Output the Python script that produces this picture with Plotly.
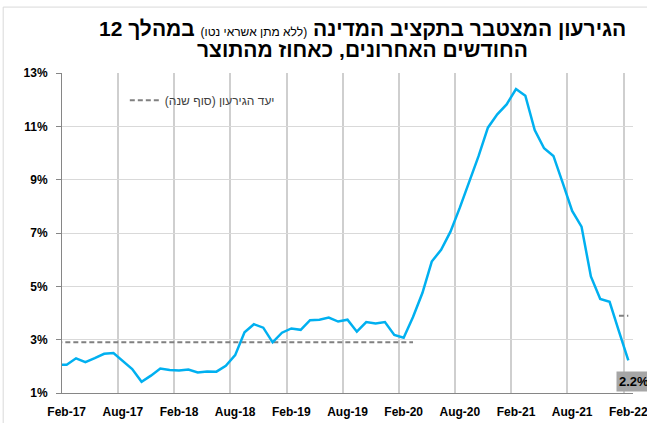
import plotly.graph_objects as go

# Monthly data, Jan-17 .. Feb-22 (Jan-17 lies just left of the visible axis range)
month_labels = [
    "Jan-17", "Feb-17", "Mar-17", "Apr-17", "May-17", "Jun-17", "Jul-17", "Aug-17", "Sep-17", "Oct-17", "Nov-17", "Dec-17",
    "Jan-18", "Feb-18", "Mar-18", "Apr-18", "May-18", "Jun-18", "Jul-18", "Aug-18", "Sep-18", "Oct-18", "Nov-18", "Dec-18",
    "Jan-19", "Feb-19", "Mar-19", "Apr-19", "May-19", "Jun-19", "Jul-19", "Aug-19", "Sep-19", "Oct-19", "Nov-19", "Dec-19",
    "Jan-20", "Feb-20", "Mar-20", "Apr-20", "May-20", "Jun-20", "Jul-20", "Aug-20", "Sep-20", "Oct-20", "Nov-20", "Dec-20",
    "Jan-21", "Feb-21", "Mar-21", "Apr-21", "May-21", "Jun-21", "Jul-21", "Aug-21", "Sep-21", "Oct-21", "Nov-21", "Dec-21",
    "Jan-22", "Feb-22",
]

deficit = [
    2.06, 2.06, 2.30, 2.16, 2.31, 2.47, 2.50, 2.21, 1.90, 1.42, 1.65, 1.92,
    1.86, 1.84, 1.88, 1.77, 1.81, 1.80, 2.02, 2.42, 3.28, 3.58, 3.45, 2.90,
    3.26, 3.42, 3.37, 3.73, 3.75, 3.83, 3.68, 3.75, 3.30, 3.66, 3.61, 3.66,
    3.18, 3.07, 3.85, 4.75, 5.93, 6.37, 7.05, 7.95, 8.90, 9.88, 10.95, 11.45,
    11.82, 12.40, 12.15, 10.86, 10.18, 9.89, 8.87, 7.83, 7.24, 5.37, 4.53, 4.42,
    3.31, 2.22,
]

target = [2.9] * 39 + [None] * 21 + [3.9, 3.9]

tick_labels = ["Feb-17", "Aug-17", "Feb-18", "Aug-18", "Feb-19", "Aug-19",
               "Feb-20", "Aug-20", "Feb-21", "Aug-21", "Feb-22"]
y_ticks = [1, 3, 5, 7, 9, 11, 13]

title_line1 = ("<b>הגירעון המצטבר בתקציב המדינה</b> "
               "<span style='font-size:12px'>(ללא מתן אשראי נטו)</span> "
               "<b>במהלך 12</b>")
title_line2 = "<b>החודשים האחרונים, כאחוז מהתוצר</b>"
legend_name = "יעד הגירעון (סוף שנה)"

# category positions: Feb-17 = 0
x = [i - 1 for i in range(len(month_labels))]
tick_pos = [month_labels.index(t) - 1 for t in tick_labels]
grid_pos = [p - 0.5 for p in tick_pos[1:]]

fig = go.Figure()
fig.add_trace(go.Scatter(
    x=x, y=target, mode="lines", name=legend_name,
    line=dict(color="#808080", width=2, dash="5px,3px"),
    connectgaps=False, hoverinfo="skip",
))
fig.add_trace(go.Scatter(
    x=x, y=deficit, mode="lines", showlegend=False,
    line=dict(color="#00B0F0", width=2.5),
))

fig.add_annotation(
    x=x[-1], y=deficit[-1], xref="x", yref="y",
    text=f"<b>{deficit[-1]:.1f}%</b>", showarrow=False,
    xanchor="left", yanchor="top", xshift=-12, yshift=-11,
    bgcolor="#A6A6A6", borderpad=2,
    font=dict(size=13, color="black"),
)

# title lines (two annotations to control line spacing)
fig.add_annotation(x=0.5254, y=1.1406, xref="paper", yref="paper",
                   text=title_line1, showarrow=False,
                   xanchor="center", yanchor="middle",
                   font=dict(size=21, color="black"))
fig.add_annotation(x=0.5254, y=1.0719, xref="paper", yref="paper",
                   text=title_line2, showarrow=False,
                   xanchor="center", yanchor="middle",
                   font=dict(size=21, color="black"))

fig.add_shape(type="rect", xref="paper", yref="paper",
              x0=-0.103, x1=1.3, y0=-0.3, y1=1.206,
              line=dict(color="#D9D9D9", width=1), layer="below")

fig.update_layout(
    width=647, height=423,
    margin=dict(l=62, r=14, t=73, b=30, autoexpand=False),
    paper_bgcolor="white", plot_bgcolor="white",
    font=dict(family="Arial, 'Liberation Sans', sans-serif", color="black"),
    legend=dict(x=0.11, y=0.915, xanchor="left", yanchor="middle",
                bgcolor="rgba(0,0,0,0)", font=dict(size=12, color="#404040")),
    showlegend=True,
)

fig.update_xaxes(
    range=[-0.5, 60.5], automargin=False,
    tickmode="array", tickvals=tick_pos, ticktext=tick_labels,
    tickfont=dict(size=12, weight="bold"),
    ticklabeloverflow="allow", ticklabelstandoff=8,
    showgrid=False, zeroline=False,
    showline=True, linecolor="#868686", linewidth=1,
    ticks="",
    minor=dict(tickmode="array", tickvals=grid_pos, showgrid=True,
               gridcolor="#CFCFCF", gridwidth=1.5, ticks=""),
)
fig.update_yaxes(
    range=[1, 13], automargin=False,
    tickmode="array", tickvals=y_ticks, ticktext=[f"{v}%" for v in y_ticks],
    tickfont=dict(size=12, weight="bold"),
    showgrid=True, gridcolor="#D9D9D9", gridwidth=1, zeroline=False,
    showline=True, linecolor="#868686", linewidth=1,
    ticks="outside", ticklen=5, tickcolor="#868686",
    ticklabelstandoff=6,
)

fig.write_html("out.html", config={"displayModeBar": False},
               post_script="document.body.style.margin='0';")
